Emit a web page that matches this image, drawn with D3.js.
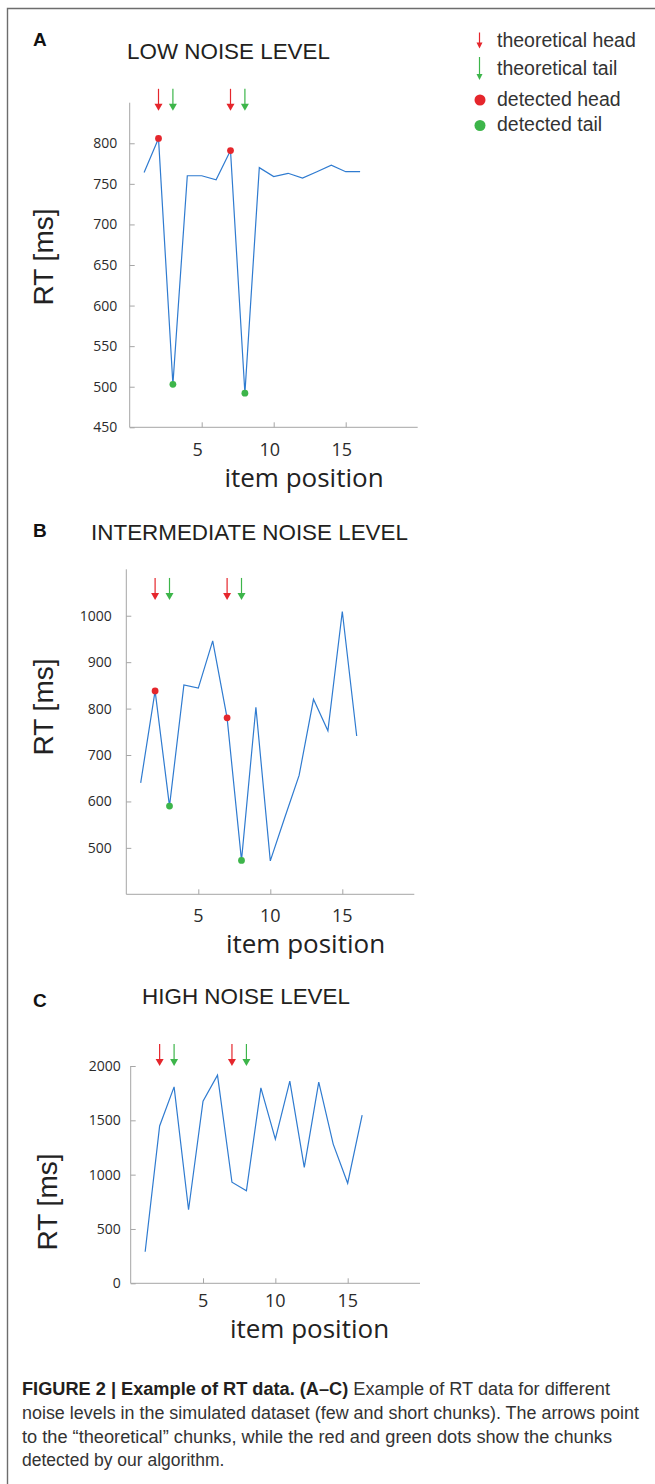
<!DOCTYPE html>
<html lang="en">
  <head>
    <meta charset="utf-8">
    <script src="https://d3js.org/d3.v7.min.js"></script>
    <title>Example of RT data</title>
    <style>
      body {
        margin: 0;
        background-color: #fff;
      }
      svg {
        display: block;
      }
    </style>
  </head>
  <body>
    <div class="chartHolder"></div>
    <script>
      // item positions and RT values
      const itemPos = [1, 2, 3, 4, 5, 6, 7, 8, 9, 10, 11, 12, 13, 14, 15, 16];
      const rtLow = [764, 806, 503, 760, 760, 755, 791, 492, 770, 759, 763, 757, 765, 773, 765, 765];
      const rtMid = [640, 838, 590, 851, 844, 946, 780, 473, 803, 472, 565, 656, 820, 752, 1009, 741];
      const rtHigh = [290, 1448, 1808, 677, 1677, 1915, 930, 851, 1799, 1326, 1860, 1067, 1851, 1281, 921, 1549];

      // theoretical chunks (arrows) and detected chunks (dots)
      const theoHead = [2, 7];
      const theoTail = [3, 8];
      const detHeadLow = [2, 7];
      const detTailLow = [3, 8];
      const detHeadMid = [2, 7];
      const detTailMid = [3, 8];
      const detHeadHigh = [];
      const detTailHigh = [];

      const xTicks = [5, 10, 15];
      const yTicksLow = [450, 500, 550, 600, 650, 700, 750, 800];
      const yTicksMid = [500, 600, 700, 800, 900, 1000];
      const yTicksHigh = [0, 500, 1000, 1500, 2000];

      const colors = {line: '#2f7bd0', head: '#e5262c', tail: '#3db54a', axis: '#a6a6a6', text: '#2b2b2b'};

      const panels = [
        {letter: 'A', title: 'LOW NOISE LEVEL', values: rtLow, ticks: yTicksLow, yDomain: [450, 850],
         heads: detHeadLow, tails: detTailLow, arrowTip: 840,
         x0: 129.7, x1: 417.7, yTop: 102.7, yBottom: 427.3,
         titleX: 228.5, titleY: 59, letterY: 46, tickGap: 12.5, xLabDx: -4, xLabY: 455.5,
         itemY: 487, itemX: 304, rtX: 53, rtY: 257},
        {letter: 'B', title: 'INTERMEDIATE NOISE LEVEL', values: rtMid, ticks: yTicksMid, yDomain: [400, 1100],
         heads: detHeadMid, tails: detTailMid, arrowTip: 1034,
         x0: 126.3, x1: 414.3, yTop: 569.3, yBottom: 894.3,
         titleX: 249.5, titleY: 540, letterY: 537, tickGap: 14.5, xLabDx: 0, xLabY: 921.5,
         itemY: 953, itemX: 305.5, rtX: 53, rtY: 707},
        {letter: 'C', title: 'HIGH NOISE LEVEL', values: rtHigh, ticks: yTicksHigh, yDomain: [0, 2000],
         heads: detHeadHigh, tails: detTailHigh, arrowTip: 2000,
         x0: 130.7, x1: 420, yTop: 1066, yBottom: 1283.3,
         titleX: 246, titleY: 1004, letterY: 1006.5, tickGap: 10, xLabDx: 0, xLabY: 1307,
         itemY: 1337.5, itemX: 309.5, rtX: 57, rtY: 1202}
      ];

      const width = 655, height = 1484;
      const svg = d3.select('.chartHolder')
        .append('svg')
        .attr('width', width)
        .attr('height', height);

      // figure frame (left and top edges only)
      svg.append('path')
        .attr('d', 'M7.5,' + height + 'V8.5H' + width)
        .attr('fill', 'none')
        .attr('stroke', '#6d6d6d')
        .attr('stroke-width', 1.4);

      function arrow(g, x, tipY, len, headW, headH, color) {
        g.append('line')
          .attr('x1', x).attr('x2', x)
          .attr('y1', tipY - len).attr('y2', tipY - headH + 1)
          .attr('stroke', color)
          .attr('stroke-width', 1.2);
        g.append('path')
          .attr('d', `M${x - headW / 2},${tipY - headH}L${x + headW / 2},${tipY - headH}L${x},${tipY}Z`)
          .attr('fill', color);
      }

      panels.forEach((p) => {
        const g = svg.append('g');
        const xScale = d3.scaleLinear().domain([0, 20]).range([p.x0, p.x1]);
        const yScale = d3.scaleLinear().domain(p.yDomain).range([p.yBottom, p.yTop]);

        const xAxis = d3.axisTop(xScale).tickValues(xTicks).tickSize(5).tickFormat('');
        const yAxis = d3.axisRight(yScale).tickValues(p.ticks).tickSize(5).tickFormat('');

        const gx = g.append('g')
          .attr('transform', 'translate(0, ' + p.yBottom + ')')
          .call(xAxis);
        const gy = g.append('g')
          .attr('transform', 'translate(' + p.x0 + ', 0)')
          .call(yAxis);
        [gx, gy].forEach((a) => {
          a.select('.domain').attr('d', a === gx
            ? `M${p.x0},0H${p.x1}` : `M0,${p.yTop}V${p.yBottom}`);
          a.selectAll('path, line').attr('stroke', colors.axis).attr('stroke-width', 1);
        });

        // tick labels
        g.selectAll('.ylab')
          .data(p.ticks)
          .enter()
          .append('text')
            .attr('x', p.x0 - p.tickGap)
            .attr('y', (d) => yScale(d))
            .attr('dy', '0.36em')
            .attr('text-anchor', 'end')
            .attr('font-family', '"Open Sans", sans-serif')
            .attr('font-size', 14)
            .attr('fill', colors.text)
            .text((d) => d);
        g.selectAll('.xlab')
          .data(xTicks)
          .enter()
          .append('text')
            .attr('x', (d) => xScale(d) + p.xLabDx)
            .attr('y', p.xLabY)
            .attr('text-anchor', 'middle')
            .attr('font-family', '"Open Sans", sans-serif')
            .attr('font-size', 18)
            .attr('fill', colors.text)
            .text((d) => d);

        // axis titles
        g.append('text')
          .attr('x', p.itemX)
          .attr('y', p.itemY)
          .attr('text-anchor', 'middle')
          .attr('font-family', '"Open Sans", sans-serif')
          .attr('font-size', 26)
          .attr('fill', '#222')
          .text('item position');
        g.append('text')
          .attr('transform', `translate(${p.rtX}, ${p.rtY}) rotate(-90)`)
          .attr('text-anchor', 'middle')
          .attr('font-family', '"Liberation Sans", Arial, sans-serif')
          .attr('font-size', 28)
          .attr('fill', '#222')
          .text('RT [ms]');

        // panel letter and title
        g.append('text')
          .attr('x', 33)
          .attr('y', p.letterY)
          .attr('font-family', '"Liberation Sans", Arial, sans-serif')
          .attr('font-weight', 'bold')
          .attr('font-size', 19)
          .attr('fill', '#111')
          .text(p.letter);
        g.append('text')
          .attr('x', p.titleX)
          .attr('y', p.titleY)
          .attr('text-anchor', 'middle')
          .attr('font-family', '"Liberation Sans", Arial, sans-serif')
          .attr('font-size', 22.4)
          .attr('fill', '#231f20')
          .text(p.title);

        // RT series
        const line = d3.line()
          .x((d, i) => xScale(itemPos[i]))
          .y((d) => yScale(d));
        g.append('path')
          .datum(p.values)
          .attr('d', line)
          .attr('fill', 'none')
          .attr('stroke', colors.line)
          .attr('stroke-width', 1.2)
          .attr('stroke-linejoin', 'miter');

        // theoretical chunk arrows
        const tipY = yScale(p.arrowTip);
        theoHead.forEach((d) => arrow(g, xScale(d), tipY, 22, 8, 7, colors.head));
        theoTail.forEach((d) => arrow(g, xScale(d), tipY, 22, 8, 7, colors.tail));

        // detected chunk dots
        g.selectAll('.head')
          .data(p.heads)
          .enter()
          .append('circle')
            .attr('cx', (d) => xScale(d))
            .attr('cy', (d) => yScale(p.values[itemPos.indexOf(d)]))
            .attr('r', 3.4)
            .attr('fill', colors.head);
        g.selectAll('.tail')
          .data(p.tails)
          .enter()
          .append('circle')
            .attr('cx', (d) => xScale(d))
            .attr('cy', (d) => yScale(p.values[itemPos.indexOf(d)]))
            .attr('r', 3.4)
            .attr('fill', colors.tail);
      });

      // legend
      const legend = svg.append('g');
      arrow(legend, 479.5, 48.5, 16, 6, 6, colors.head);
      arrow(legend, 479.5, 80, 23, 6, 6, colors.tail);
      legend.append('circle').attr('cx', 480).attr('cy', 100).attr('r', 5.5).attr('fill', colors.head);
      legend.append('circle').attr('cx', 480).attr('cy', 125.5).attr('r', 5.5).attr('fill', colors.tail);
      const legendItems = [['theoretical head', 46.5], ['theoretical tail', 75], ['detected head', 106], ['detected tail', 131]];
      legend.selectAll('text')
        .data(legendItems)
        .enter()
        .append('text')
          .attr('x', 497)
          .attr('y', (d) => d[1])
          .attr('font-family', '"Liberation Sans", Arial, sans-serif')
          .attr('font-size', 19.5)
          .attr('fill', '#333')
          .text((d) => d[0]);

      // caption
      const caption = svg.append('g')
        .attr('font-family', '"Liberation Sans", Arial, sans-serif')
        .attr('font-size', 17.5)
        .attr('fill', '#333');
      const c1 = caption.append('text').attr('x', 22).attr('y', 1394.5)
        .attr('textLength', 588).attr('lengthAdjust', 'spacingAndGlyphs');
      c1.append('tspan').attr('font-weight', 'bold').attr('fill', '#231f20').text('FIGURE 2 | Example of RT data. (A–C)');
      c1.append('tspan').text(' Example of RT data for different');
      caption.append('text').attr('x', 22).attr('y', 1418.5)
        .attr('textLength', 617).attr('lengthAdjust', 'spacingAndGlyphs')
        .text('noise levels in the simulated dataset (few and short chunks). The arrows point');
      caption.append('text').attr('x', 22).attr('y', 1442.5)
        .attr('textLength', 590).attr('lengthAdjust', 'spacingAndGlyphs')
        .text('to the \u201ctheoretical\u201d chunks, while the red and green dots show the chunks');
      caption.append('text').attr('x', 22).attr('y', 1466)
        .text('detected by our algorithm.');
    </script>
  </body>
</html>
